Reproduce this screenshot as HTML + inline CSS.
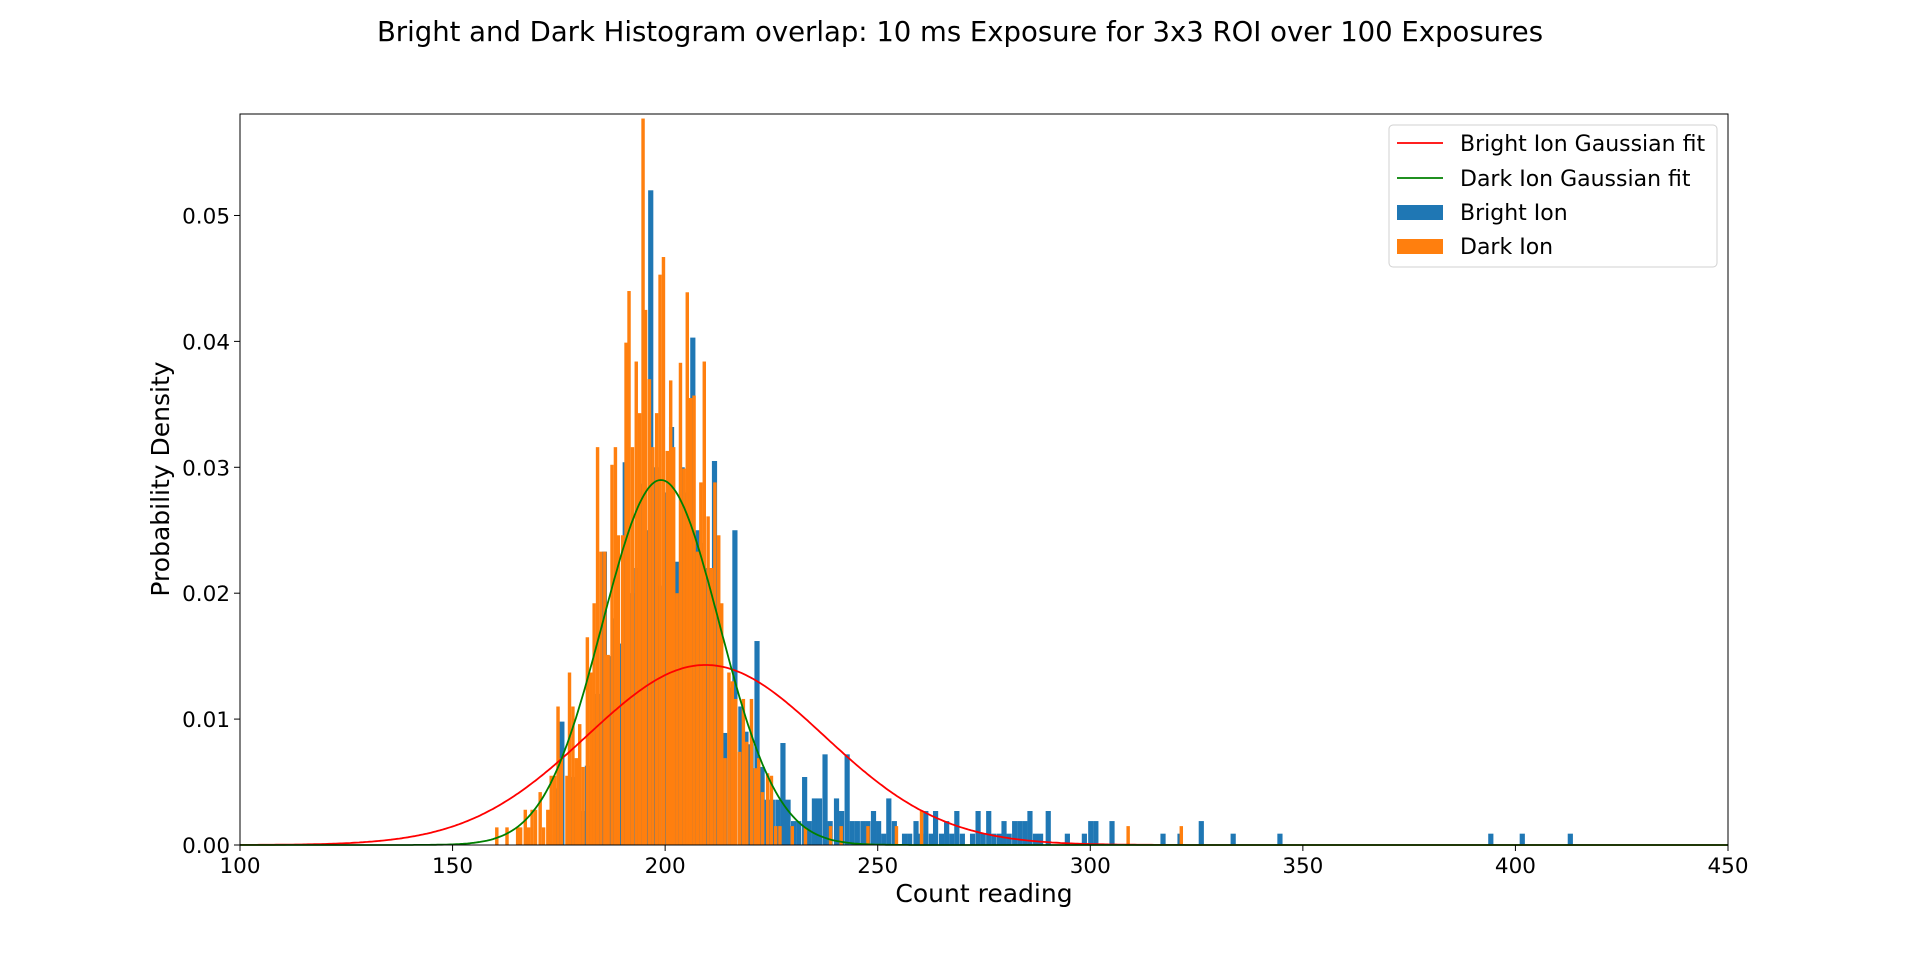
<!DOCTYPE html>
<html><head><meta charset="utf-8"><style>
body{margin:0;background:#fff;}
svg text{font-family:"DejaVu Sans","Liberation Sans",sans-serif;fill:#000;}
</style></head><body>
<svg id="chart" width="1920" height="949" xmlns="http://www.w3.org/2000/svg">
<rect width="1920" height="949" fill="#fff"/>
<text x="960" y="41" font-size="27.5" text-anchor="middle">Bright and Dark Histogram overlap: 10 ms Exposure for 3x3 ROI over 100 Exposures</text>
<g id="bars"></g><g id="curves"></g>
<rect x="240" y="114" width="1488" height="731" fill="none" stroke="#000" stroke-width="1"/>
<g id="ticks"></g>
<text x="984" y="902" font-size="25" text-anchor="middle">Count reading</text>
<text transform="translate(169,479) rotate(-90)" font-size="25" text-anchor="middle">Probability Density</text>
<g>
<rect x="1389" y="125" width="328" height="142" rx="4" fill="#fff" stroke="#ccc" opacity="0.9"/>
<line x1="1397" x2="1443" y1="143" y2="143" stroke="#ff0000" stroke-width="1.7"/>
<text x="1460" y="151" font-size="22">Bright Ion Gaussian fit</text>
<line x1="1397" x2="1443" y1="178" y2="178" stroke="#008000" stroke-width="1.7"/>
<text x="1460" y="186" font-size="22">Dark Ion Gaussian fit</text>
<rect x="1397" y="205" width="46" height="15" fill="#1f77b4"/>
<text x="1460" y="220" font-size="22">Bright Ion</text>
<rect x="1397" y="239" width="46" height="15" fill="#ff7f0e"/>
<text x="1460" y="254" font-size="22">Dark Ion</text>
</g>
</svg>
<script>
const xTicks=[100,150,200,250,300,350,400,450];
const yTicks=[0,0.01,0.02,0.03,0.04,0.05];
const yTickLabels=["0.00","0.01","0.02","0.03","0.04","0.05"];
const brightX=[172.3,173.6,175.1,177,177.6,179,180,181.1,182.3,183.5,185.1,186.3,187.5,188.7,189.3,190,191.5,192.7,194.1,195,196,197.2,198,199.3,200.9,202.1,203.4,204.6,205.9,207.1,208.3,209.6,211,212.2,213.4,215,215.8,217.2,218.4,219.6,221,222.2,223.4,224.6,225.9,227.1,228.3,229.6,230.8,232.2,233.3,234.5,235.7,237,238.2,239.7,240.9,242.2,243.4,244.6,245.9,247.1,248.4,249.6,250.8,252,253.3,255.7,256.9,258.4,259.5,260.7,262,263,264.4,265.6,266.8,268,269.3,271.7,273,274.2,275.5,276.7,278,279.1,280.3,281.6,282.8,284,285.2,286.5,287.7,289.5,294,298,299.5,300.7,304.5,316.5,320.5,325.5,333,344,393.6,401,412.3];
const brightH=[0.0008,0.0045,0.0098,0.0036,0.0054,0.0045,0.0027,0.0063,0.009,0.012,0.0233,0.015,0.018,0.016,0.009,0.0304,0.02,0.022,0.0287,0.025,0.052,0.03,0.0206,0.028,0.0332,0.0225,0.03,0.028,0.0403,0.025,0.024,0.022,0.0305,0.018,0.0089,0.0125,0.025,0.011,0.009,0.008,0.0162,0.0062,0.0036,0.0036,0.0036,0.0081,0.0036,0.0019,0.0019,0.0054,0.0019,0.0037,0.0037,0.0072,0.0019,0.0037,0.0027,0.0072,0.0019,0.0019,0.0019,0.0019,0.0027,0.0019,0.0009,0.0037,0.0019,0.0009,0.0009,0.0019,0.0009,0.0027,0.0009,0.0027,0.0009,0.0019,0.0009,0.0027,0.0009,0.0009,0.0027,0.0009,0.0027,0.0009,0.0009,0.0019,0.0009,0.0019,0.0019,0.0019,0.0027,0.0009,0.0009,0.0027,0.0009,0.0009,0.0019,0.0019,0.0019,0.0009,0.0009,0.0019,0.0009,0.0009,0.0009,0.0009,0.0009];
const darkX=[160,162.4,164.9,165.6,166.7,167.5,168.3,169.1,170.2,171,172,172.8,173.6,174.4,175.2,176.5,177.1,177.9,178.7,179.5,180.3,181.3,182.1,182.9,183.7,184.5,185.4,186.2,187.1,187.9,188.6,189.6,190.4,191.1,191.9,192.8,193.6,194.4,195,195.9,196.7,197.6,198.4,199.2,200.1,200.9,201.6,202.4,203.2,204,204.8,205.6,206.4,207.2,208,208.8,209.7,210.5,211.3,212.2,212.9,213.7,214.6,215.4,216.2,217.1,218,218.8,219.9,220.8,221.6,222.5,223.7,224.6,225.6,226.6,229.5,232.6,238.5,241,247.3,254,259.9,308.5,321];
const darkH=[0.0014,0.0014,0.0014,0.0014,0.0028,0.0014,0.0028,0.0028,0.0042,0.0014,0.0028,0.0055,0.0055,0.011,0.0069,0.0055,0.0137,0.011,0.0069,0.0096,0.0062,0.0165,0.0137,0.0192,0.0316,0.0233,0.0233,0.0151,0.0302,0.0316,0.0246,0.0246,0.0399,0.044,0.0316,0.0384,0.0343,0.0577,0.0425,0.037,0.0316,0.0343,0.0453,0.0467,0.0313,0.0369,0.0316,0.02,0.0383,0.0299,0.0439,0.0355,0.0357,0.0233,0.0288,0.0384,0.0261,0.022,0.0288,0.0246,0.0192,0.0069,0.0137,0.013,0.0116,0.0074,0.0116,0.0082,0.0116,0.0061,0.0069,0.0042,0.0057,0.0055,0.0015,0.0015,0.0015,0.0014,0.0015,0.0015,0.0015,0.0015,0.0027,0.0015,0.0015];
const brightWidth=[1.22];
const darkWidth=[0.81];
const fitMeans=[209.5,199];
const fitSigmas=[27.9,13.76];
const fitColors=["#ff0000","#008000"];

const NS="http://www.w3.org/2000/svg";
const L=240,R=1728,T=114,B=845,X0=100,X1=450,YMAX=0.05806;
function sx(v){return L+(v-X0)/(X1-X0)*(R-L);}
function sy(v){return B-v/YMAX*(B-T);}
function mk(tag,attrs,parent){const e=document.createElementNS(NS,tag);for(const k in attrs)e.setAttribute(k,attrs[k]);parent.appendChild(e);return e;}
const bars=document.getElementById('bars');
brightX.forEach((x,i)=>{
 const r=mk('rect',{x:sx(x),y:sy(brightH[i]),width:sx(x+brightWidth[0])-sx(x),height:B-sy(brightH[i]),fill:'#1f77b4'},bars);
 
 
});
darkX.forEach((x,i)=>{
 const r=mk('rect',{x:sx(x),y:sy(darkH[i]),width:sx(x+darkWidth[0])-sx(x),height:B-sy(darkH[i]),fill:'#ff7f0e'},bars);
 
 
});
const curves=document.getElementById('curves');
fitMeans.forEach((m,k)=>{
 const s=fitSigmas[k];let d='';
 for(let v=X0;v<=X1;v+=0.5){const y=Math.exp(-0.5*((v-m)/s)**2)/(s*Math.sqrt(2*Math.PI));d+=(d?'L':'M')+sx(v).toFixed(1)+','+sy(y).toFixed(1);}
 const p=mk('path',{d:d,fill:'none',stroke:fitColors[k],'stroke-width':1.8},curves);
 
 
});
const tk=document.getElementById('ticks');
xTicks.forEach(v=>{
 mk('line',{x1:sx(v),x2:sx(v),y1:B,y2:B+6,stroke:'#000'},tk);
 const t=mk('text',{x:sx(v),y:B+28,'font-size':21.5,'text-anchor':'middle'},tk);t.textContent=v;
 
 
});
yTicks.forEach((v,i)=>{
 mk('line',{x1:L-6,x2:L,y1:sy(v),y2:sy(v),stroke:'#000'},tk);
 const t=mk('text',{x:L-10,y:sy(v)+8,'font-size':21.5,'text-anchor':'end'},tk);t.textContent=yTickLabels[i];
 
 
});
</script>
</body></html>
